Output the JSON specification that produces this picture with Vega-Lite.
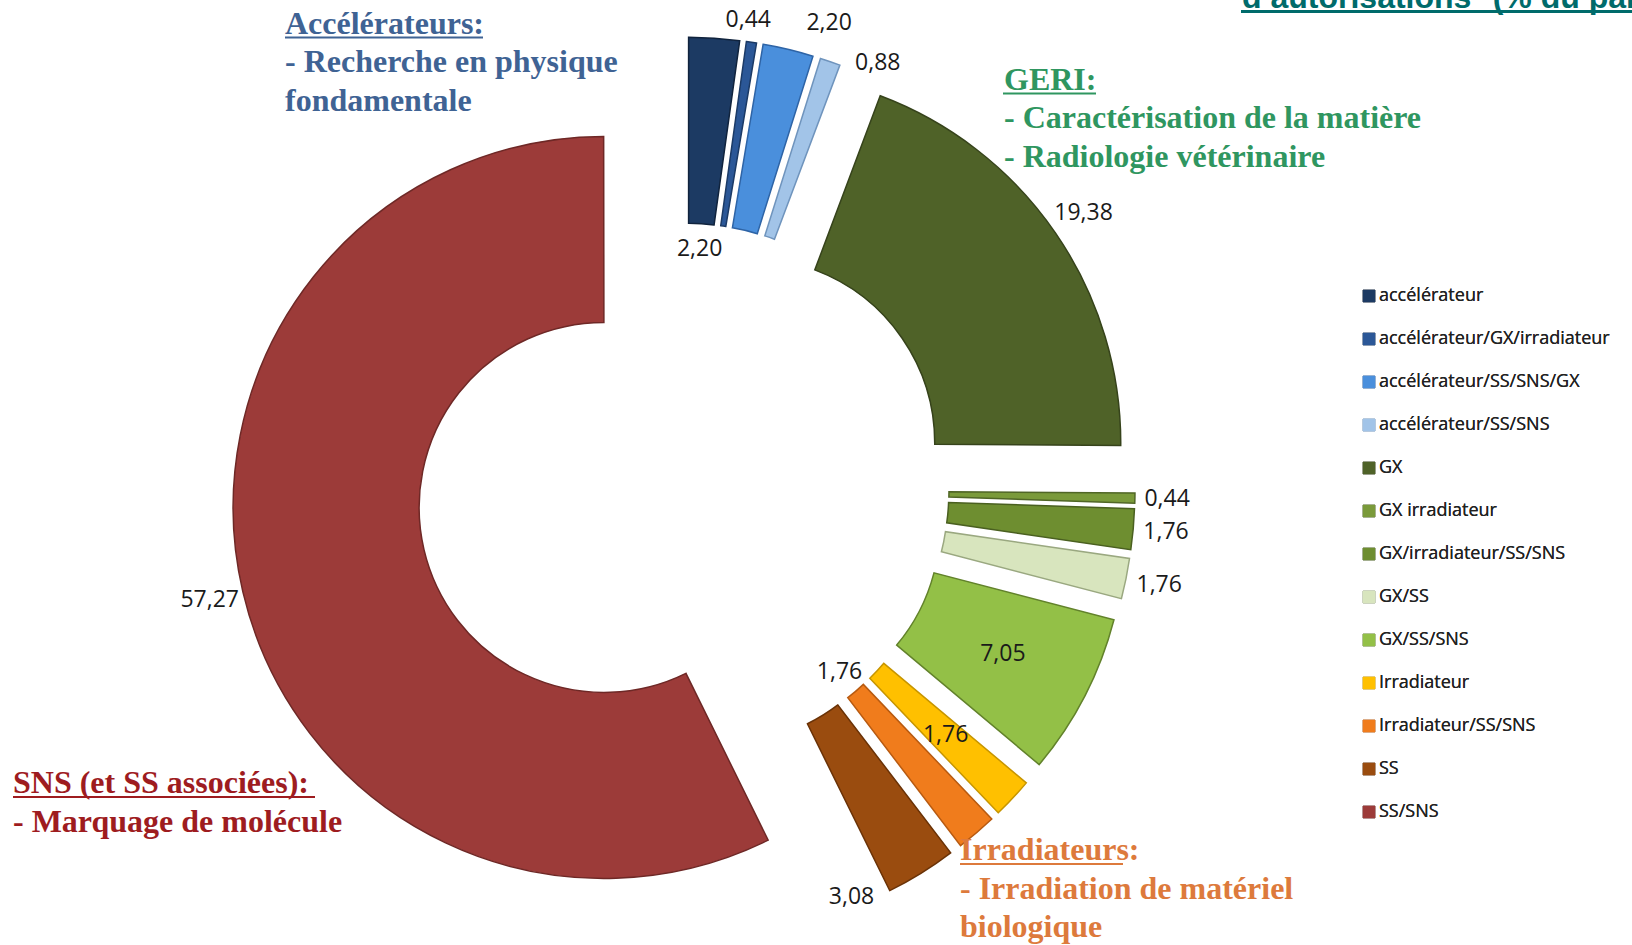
{
  "$schema": "https://vega.github.io/schema/vega-lite/v6.json",
  "width": 1632,
  "height": 945,
  "autosize": "none",
  "padding": 0,
  "background": "white",
  "config": {
    "view": {"stroke": null},
    "locale": {"number": {"decimal": ",", "thousands": " ", "grouping": [3], "currency": ["", " €"]}}
  },
  "datasets": {
    "slices": [
      {"cat": "accélérateur", "pct": 2.20},
      {"cat": "accélérateur/GX/irradiateur", "pct": 0.44},
      {"cat": "accélérateur/SS/SNS/GX", "pct": 2.20},
      {"cat": "accélérateur/SS/SNS", "pct": 0.88},
      {"cat": "GX", "pct": 19.38},
      {"cat": "GX irradiateur", "pct": 0.44},
      {"cat": "GX/irradiateur/SS/SNS", "pct": 1.76},
      {"cat": "GX/SS", "pct": 1.76},
      {"cat": "GX/SS/SNS", "pct": 7.05},
      {"cat": "Irradiateur", "pct": 1.76},
      {"cat": "Irradiateur/SS/SNS", "pct": 1.76},
      {"cat": "SS", "pct": 3.08},
      {"cat": "SS/SNS", "pct": 57.27}
    ],
    "notes": [
      {"grp": "acc", "text": "Accélérateurs:", "x": -398, "y": -455.5},
      {"grp": "acc", "text": "- Recherche en physique", "x": -398, "y": -417},
      {"grp": "acc", "text": "fondamentale", "x": -398, "y": -378.5},
      {"grp": "geri", "text": "GERI:", "x": 321, "y": -399.5},
      {"grp": "geri", "text": "- Caractérisation de la matière", "x": 321, "y": -361},
      {"grp": "geri", "text": "- Radiologie vétérinaire", "x": 321, "y": -322.5},
      {"grp": "sns", "text": "SNS (et SS associées):", "x": -670, "y": 304},
      {"grp": "sns", "text": "- Marquage de molécule", "x": -670, "y": 342.5},
      {"grp": "irr", "text": "Irradiateurs:", "x": 277, "y": 371},
      {"grp": "irr", "text": "- Irradiation de matériel", "x": 277, "y": 409.5},
      {"grp": "irr", "text": "biologique", "x": 277, "y": 448}
    ],
    "underlines": [
      {"grp": "acc", "x": -398, "x2": -200, "y": -451.5},
      {"grp": "geri", "x": 320, "x2": 413, "y": -395.5},
      {"grp": "sns", "x": -670, "x2": -368, "y": 308},
      {"grp": "irr", "x": 277, "x2": 440, "y": 375}
    ],
    "title": [
      {"text": "d’autorisations* (% du parc)", "x": 559, "y": -481.5, "x2": 558, "x3": 949, "yl": -477.5}
    ]
  },
  "resolve": {"scale": {"color": "independent"}},
  "layer": [
    {
      "data": {"name": "slices"},
      "transform": [
        {"window": [{"op": "sum", "field": "pct", "as": "cum"}], "frame": [null, 0]},
        {"calculate": "datum.cum - datum.pct", "as": "t0"},
        {"calculate": "(datum.cum - datum.pct / 2) * 2 * PI / 100", "as": "mid"},
        {"calculate": "81 * sin(datum.mid)", "as": "cx"},
        {"calculate": "-81 * cos(datum.mid)", "as": "cy"}
      ],
      "mark": {"type": "arc", "innerRadius": 185, "outerRadius": 371, "strokeWidth": 1.5},
      "encoding": {
        "theta": {"field": "t0", "type": "quantitative", "stack": null, "scale": {"domain": [0, 100], "range": [0, 6.283185307]}},
        "theta2": {"field": "cum"},
        "x": {"field": "cx", "type": "quantitative", "axis": null, "scale": {"domain": [-683, 949], "range": [0, 1632], "nice": false, "zero": false}},
        "y": {"field": "cy", "type": "quantitative", "axis": null, "scale": {"domain": [-489, 456], "range": [0, 945], "nice": false, "zero": false}},
        "color": {
          "field": "cat", "type": "nominal",
          "scale": {
            "domain": ["accélérateur", "accélérateur/GX/irradiateur", "accélérateur/SS/SNS/GX", "accélérateur/SS/SNS", "GX", "GX irradiateur", "GX/irradiateur/SS/SNS", "GX/SS", "GX/SS/SNS", "Irradiateur", "Irradiateur/SS/SNS", "SS", "SS/SNS"],
            "range": ["#1c3a63", "#2b5797", "#4a8fdc", "#a2c4e8", "#4f6228", "#7a9a3a", "#6e8e30", "#d8e5be", "#93c047", "#ffc000", "#f07c1c", "#9a4c0f", "#9c3b39"]
          },
          "legend": {
            "title": null, "orient": "none", "legendX": 1360, "legendY": 287, "padding": 0,
            "symbolType": "square", "symbolSize": 144, "symbolStrokeWidth": 1,
            "labelFont": "Open Sans", "labelFontSize": 18, "labelColor": "#222222", "labelOffset": 1,
            "rowPadding": 25, "labelLimit": 400
          }
        },
        "stroke": {
          "field": "cat", "type": "nominal",
          "scale": {
            "domain": ["accélérateur", "accélérateur/GX/irradiateur", "accélérateur/SS/SNS/GX", "accélérateur/SS/SNS", "GX", "GX irradiateur", "GX/irradiateur/SS/SNS", "GX/SS", "GX/SS/SNS", "Irradiateur", "Irradiateur/SS/SNS", "SS", "SS/SNS"],
            "range": ["#10233d", "#1b3a66", "#2e64a6", "#6f94bd", "#36431b", "#506626", "#4a6020", "#9aa880", "#62822b", "#c79500", "#b85a10", "#6a3206", "#6e2826"]
          },
          "legend": {
            "title": null, "orient": "none", "legendX": 1360, "legendY": 287, "padding": 0,
            "symbolType": "square", "symbolSize": 144, "symbolStrokeWidth": 1,
            "labelFont": "Open Sans", "labelFontSize": 18, "labelColor": "#222222", "labelOffset": 1,
            "rowPadding": 25, "labelLimit": 400
          }
        }
      }
    },
    {
      "data": {"name": "slices"},
      "transform": [
        {"window": [{"op": "sum", "field": "pct", "as": "cum"}], "frame": [null, 0]},
        {"calculate": "(datum.cum - datum.pct / 2) * 2 * PI / 100", "as": "mid"},
        {"filter": {"field": "cat", "oneOf": ["GX", "GX irradiateur", "GX/irradiateur/SS/SNS", "GX/SS", "SS/SNS"]}},
        {"calculate": "458 + 26 * abs(sin(datum.mid)) + 12 * abs(cos(datum.mid))", "as": "r"},
        {"calculate": "datum.r * sin(datum.mid)", "as": "lx"},
        {"calculate": "-datum.r * cos(datum.mid)", "as": "ly"}
      ],
      "mark": {"type": "text", "font": "Open Sans", "fontSize": 23, "color": "#1a1a1a", "align": "center", "baseline": "middle"},
      "encoding": {
        "x": {"field": "lx", "type": "quantitative"},
        "y": {"field": "ly", "type": "quantitative"},
        "text": {"field": "pct", "type": "quantitative", "format": ".2f"}
      }
    },
    {
      "data": {"name": "slices"},
      "transform": [
        {"window": [{"op": "sum", "field": "pct", "as": "cum"}], "frame": [null, 0]},
        {"calculate": "(datum.cum - datum.pct) * 2 * PI / 100", "as": "a"},
        {"filter": {"field": "cat", "oneOf": ["accélérateur/GX/irradiateur"]}},
        {"calculate": "474 * sin(datum.a)", "as": "lx"},
        {"calculate": "-474 * cos(datum.a)", "as": "ly"}
      ],
      "mark": {"type": "text", "font": "Open Sans", "fontSize": 23, "color": "#1a1a1a", "align": "center", "baseline": "middle"},
      "encoding": {
        "x": {"field": "lx", "type": "quantitative"},
        "y": {"field": "ly", "type": "quantitative"},
        "text": {"field": "pct", "type": "quantitative", "format": ".2f"}
      }
    },
    {
      "data": {"name": "slices"},
      "transform": [
        {"window": [{"op": "sum", "field": "pct", "as": "cum"}], "frame": [null, 0]},
        {"calculate": "datum.cum * 2 * PI / 100", "as": "a"},
        {"filter": {"field": "cat", "oneOf": ["accélérateur/SS/SNS/GX"]}},
        {"calculate": "488 * sin(datum.a)", "as": "lx"},
        {"calculate": "-488 * cos(datum.a)", "as": "ly"}
      ],
      "mark": {"type": "text", "font": "Open Sans", "fontSize": 23, "color": "#1a1a1a", "align": "center", "baseline": "middle"},
      "encoding": {
        "x": {"field": "lx", "type": "quantitative"},
        "y": {"field": "ly", "type": "quantitative"},
        "text": {"field": "pct", "type": "quantitative", "format": ".2f"}
      }
    },
    {
      "data": {"name": "slices"},
      "transform": [
        {"window": [{"op": "sum", "field": "pct", "as": "cum"}], "frame": [null, 0]},
        {"calculate": "datum.cum * 2 * PI / 100", "as": "a"},
        {"filter": {"field": "cat", "oneOf": ["accélérateur/SS/SNS"]}},
        {"calculate": "455 * sin(datum.a)", "as": "lx"},
        {"calculate": "-455 * cos(datum.a)", "as": "ly"}
      ],
      "mark": {"type": "text", "font": "Open Sans", "fontSize": 23, "color": "#1a1a1a", "align": "left", "baseline": "middle", "dx": 12},
      "encoding": {
        "x": {"field": "lx", "type": "quantitative"},
        "y": {"field": "ly", "type": "quantitative"},
        "text": {"field": "pct", "type": "quantitative", "format": ".2f"}
      }
    },
    {
      "data": {"name": "slices"},
      "transform": [
        {"window": [{"op": "sum", "field": "pct", "as": "cum"}], "frame": [null, 0]},
        {"calculate": "datum.cum * 2 * PI / 100", "as": "a"},
        {"filter": {"field": "cat", "oneOf": ["SS"]}},
        {"calculate": "455 * sin(datum.a)", "as": "lx"},
        {"calculate": "-455 * cos(datum.a)", "as": "ly"}
      ],
      "mark": {"type": "text", "font": "Open Sans", "fontSize": 23, "color": "#1a1a1a", "align": "right", "baseline": "middle", "dx": -10},
      "encoding": {
        "x": {"field": "lx", "type": "quantitative"},
        "y": {"field": "ly", "type": "quantitative"},
        "text": {"field": "pct", "type": "quantitative", "format": ".2f"}
      }
    },
    {
      "data": {"name": "slices"},
      "transform": [
        {"window": [{"op": "sum", "field": "pct", "as": "cum"}], "frame": [null, 0]},
        {"calculate": "(datum.cum - datum.pct / 2) * 2 * PI / 100", "as": "mid"},
        {"filter": {"field": "cat", "oneOf": ["GX/SS/SNS", "Irradiateur"]}},
        {"calculate": "360 * sin(datum.mid)", "as": "lx"},
        {"calculate": "-360 * cos(datum.mid)", "as": "ly"}
      ],
      "mark": {"type": "text", "font": "Open Sans", "fontSize": 23, "color": "#1a1a1a", "align": "center", "baseline": "middle"},
      "encoding": {
        "x": {"field": "lx", "type": "quantitative"},
        "y": {"field": "ly", "type": "quantitative"},
        "text": {"field": "pct", "type": "quantitative", "format": ".2f"}
      }
    },
    {
      "data": {"name": "slices"},
      "transform": [
        {"window": [{"op": "sum", "field": "pct", "as": "cum"}], "frame": [null, 0]},
        {"calculate": "(datum.cum - datum.pct / 2) * 2 * PI / 100", "as": "mid"},
        {"filter": {"field": "cat", "oneOf": ["accélérateur", "Irradiateur/SS/SNS"]}},
        {"calculate": "241 * sin(datum.mid)", "as": "lx"},
        {"calculate": "-241 * cos(datum.mid)", "as": "ly"}
      ],
      "mark": {"type": "text", "font": "Open Sans", "fontSize": 23, "color": "#1a1a1a", "align": "center", "baseline": "middle"},
      "encoding": {
        "x": {"field": "lx", "type": "quantitative"},
        "y": {"field": "ly", "type": "quantitative"},
        "text": {"field": "pct", "type": "quantitative", "format": ".2f"}
      }
    },
    {
      "data": {"name": "notes"},
      "mark": {"type": "text", "font": "Liberation Serif", "fontWeight": "bold", "fontSize": 32, "align": "left", "baseline": "alphabetic"},
      "encoding": {
        "x": {"field": "x", "type": "quantitative"},
        "y": {"field": "y", "type": "quantitative"},
        "text": {"field": "text"},
        "color": {"field": "grp", "type": "nominal", "legend": null, "scale": {"domain": ["acc", "geri", "sns", "irr"], "range": ["#3f6394", "#2f9660", "#9e1c1f", "#dd7a3c"]}}
      }
    },
    {
      "data": {"name": "underlines"},
      "mark": {"type": "rule", "strokeWidth": 2},
      "encoding": {
        "x": {"field": "x", "type": "quantitative"},
        "x2": {"field": "x2"},
        "y": {"field": "y", "type": "quantitative"},
        "color": {"field": "grp", "type": "nominal", "legend": null, "scale": {"domain": ["acc", "geri", "sns", "irr"], "range": ["#3f6394", "#2f9660", "#9e1c1f", "#dd7a3c"]}}
      }
    },
    {
      "data": {"name": "title"},
      "mark": {"type": "text", "font": "Liberation Sans", "fontWeight": "bold", "fontSize": 32, "align": "left", "baseline": "alphabetic", "color": "#006b6b"},
      "encoding": {
        "x": {"field": "x", "type": "quantitative"},
        "y": {"field": "y", "type": "quantitative"},
        "text": {"field": "text"}
      }
    },
    {
      "data": {"name": "title"},
      "mark": {"type": "rule", "strokeWidth": 3, "color": "#006b6b"},
      "encoding": {
        "x": {"field": "x2", "type": "quantitative"},
        "x2": {"field": "x3"},
        "y": {"field": "yl", "type": "quantitative"}
      }
    }
  ]
}
